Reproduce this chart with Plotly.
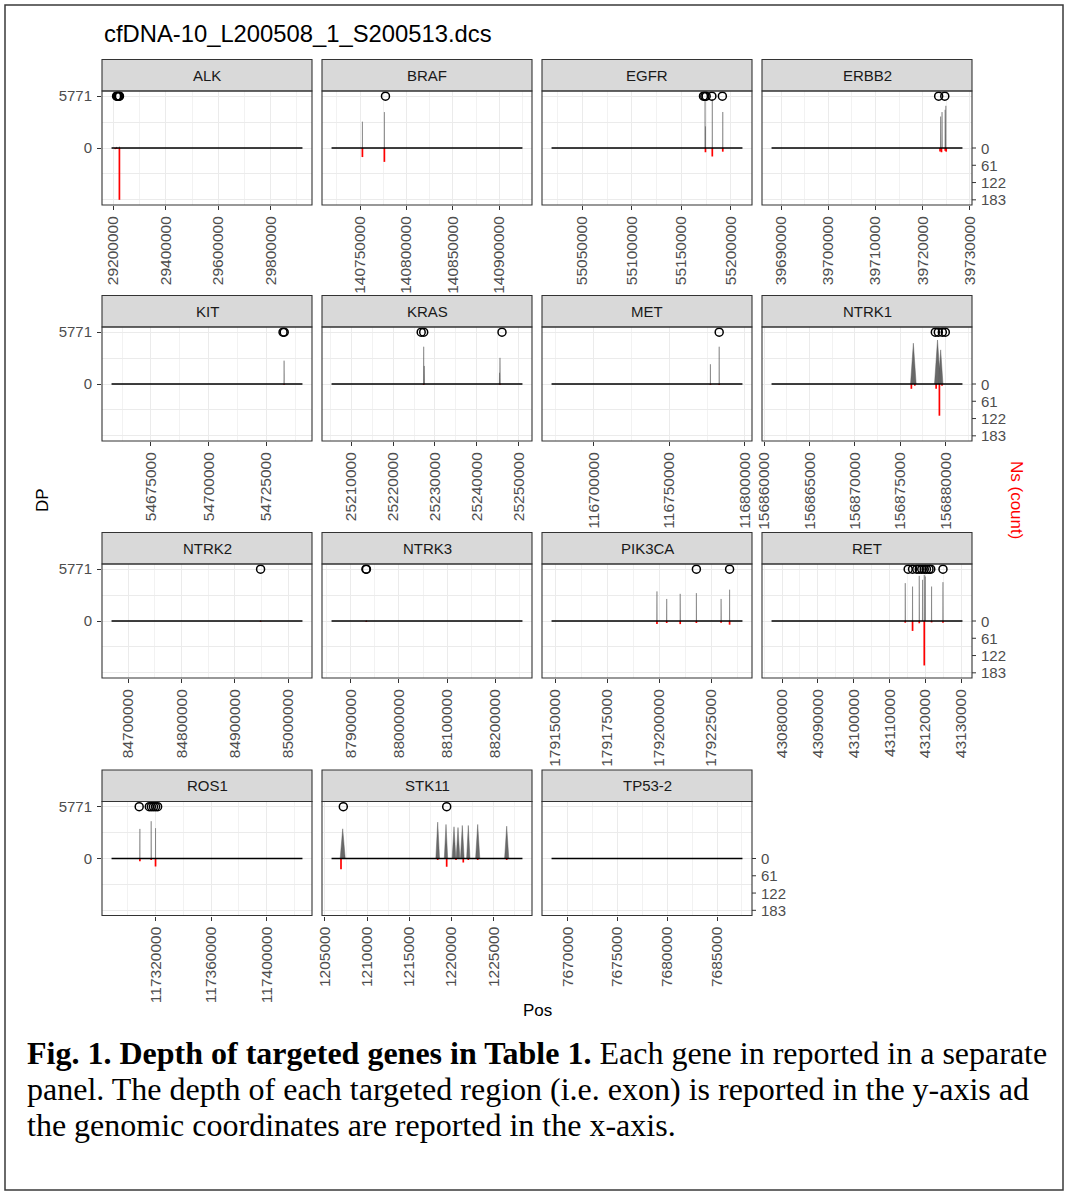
import plotly.graph_objects as go

# ---------------- data ----------------
title_text = "cfDNA-10_L200508_1_S200513.dcs"
genes = ["ALK", "BRAF", "EGFR", "ERBB2", "KIT", "KRAS", "MET", "NTRK1",
         "NTRK2", "NTRK3", "PIK3CA", "RET", "ROS1", "STK11", "TP53-2"]
gene_start = [29192774, 140719327, 55019017, 39687974, 54657918, 25205246, 116672196,
              156860815, 84668368, 87859751, 179148114, 43077069, 117288300, 1205778, 7668402]
gene_end = [29921586, 140924929, 55211628, 39728447, 54740715, 25250936, 116798377,
            156881850, 85027070, 88256768, 179240093, 43130349, 117425855, 1228431, 7687550]
x_ticks = [
    [29200000, 29400000, 29600000, 29800000],
    [140750000, 140800000, 140850000, 140900000],
    [55050000, 55100000, 55150000, 55200000],
    [39690000, 39700000, 39710000, 39720000, 39730000],
    [54675000, 54700000, 54725000],
    [25210000, 25220000, 25230000, 25240000, 25250000],
    [116700000, 116750000, 116800000],
    [156860000, 156865000, 156870000, 156875000, 156880000],
    [84700000, 84800000, 84900000, 85000000],
    [87900000, 88000000, 88100000, 88200000],
    [179150000, 179175000, 179200000, 179225000],
    [43080000, 43090000, 43100000, 43110000, 43120000, 43130000],
    [117320000, 117360000, 117400000],
    [1205000, 1210000, 1215000, 1220000, 1225000],
    [7670000, 7675000, 7680000, 7685000],
]
DP_MAX = 5771
NS_MAX = 183
ns_ticks = [0, 61, 122, 183]

# depth peaks (DP)
dp_gene = (["ALK"] * 2 + ["BRAF"] * 2 + ["EGFR"] * 4 + ["ERBB2"] * 4 + ["KIT"] + ["KRAS"] * 4
           + ["MET"] * 2 + ["NTRK1"] * 3 + ["NTRK2"] + ["NTRK3"] + ["PIK3CA"] * 6 + ["RET"] * 8
           + ["ROS1"] * 3 + ["STK11"] * 9)
dp_pos = [29212000, 29222800,
          140752580, 140776230,
          55173900, 55174300, 55181200, 55191770,
          39723820, 39724120, 39724780, 39724930,
          54732750,
          25227300, 25227440, 25245560, 25245450,
          116777200, 116783000,
          156876440, 156879100, 156879450,
          84948400,
          87932000,
          179198900, 179203600, 179210100, 179217900, 179229800, 179233900,
          43114385, 43116424, 43118295, 43119217, 43119692, 43119971, 43121731, 43124915,
          117308720, 117316860, 117320000,
          1207101, 1218374, 1219359, 1220308, 1220783, 1221293, 1222005, 1223120, 1226561]
dp_val = [120, 150,
          2930, 4000,
          5400, 2400, 5450, 4010,
          3500, 4000, 4250, 4700,
          2600,
          4150, 2010, 2910, 1250,
          2200, 4150,
          4545, 4900, 3800,
          80,
          80,
          3295, 2455, 3025, 3104, 2455, 3485,
          4213, 3832, 5031, 4583, 5143, 4953, 3832, 4325,
          3296, 4151, 3375,
          3307, 4050, 3791, 3532, 3450, 3679, 3679, 3791, 3600]
dp_halfwidth = [400, 400,
                60, 60,
                60, 60, 60, 60,
                40, 40, 40, 40,
                60,
                50, 50, 50, 50,
                60, 60,
                310, 330, 250,
                100,
                100,
                60, 60, 60, 60, 60, 60,
                40, 40, 40, 40, 40, 40, 40, 40,
                60, 60, 60,
                300, 220, 200, 220, 220, 220, 200, 250, 250]

# N counts (Ns)
ns_gene = (["ALK"] * 3 + ["BRAF"] * 2 + ["EGFR"] * 3 + ["ERBB2"] * 4 + ["KIT"] + ["KRAS"] * 2
           + ["MET"] * 2 + ["NTRK1"] * 5 + ["NTRK2"] + ["NTRK3"] + ["PIK3CA"] * 6 + ["RET"] * 6
           + ["ROS1"] * 3 + ["STK11"] * 8)
ns_pos = [29207000, 29213000, 29222800,
          140752580, 140776230,
          55174300, 55181200, 55191770,
          39723700, 39724000, 39724800, 39725000,
          54732750,
          25227300, 25245560,
          116777200, 116783000,
          156876220, 156876600, 156878950, 156879310, 156879600,
          84948400,
          87932000,
          179198900, 179203600, 179210100, 179217900, 179229800, 179233900,
          43114385, 43116424, 43118295, 43119692, 43121731, 43124915,
          117308720, 117316860, 117320000,
          1206900, 1218374, 1219440, 1220546, 1221410, 1222005, 1223120, 1226561]
ns_val = [4, 3, 183,
          32, 49,
          15, 30, 13,
          12, 15, 10, 13,
          3,
          3, 3,
          3, 3,
          17, 6, 17, 112, 6,
          3,
          3,
          11, 7, 11, 7, 6, 13,
          6, 35, 8, 157, 5, 6,
          10, 5, 28,
          38, 5, 29, 5, 14, 5, 5, 5]

# marked positions (open circles at top)
pt_gene = (["ALK"] * 5 + ["BRAF"] + ["EGFR"] * 5 + ["ERBB2"] * 2 + ["KIT"] * 2 + ["KRAS"] * 3
           + ["MET"] + ["NTRK1"] * 4 + ["NTRK2"] + ["NTRK3"] * 2 + ["PIK3CA"] * 2 + ["RET"] * 10
           + ["ROS1"] * 6 + ["STK11"] * 2)
pt_pos = [29212000, 29215000, 29218000, 29221000, 29223000,
          140777400,
          55172300, 55173700, 55175000, 55180800, 55191360,
          39723400, 39724700,
          54732300, 54732800,
          25226700, 25227300, 25246040,
          116783000,
          156878860, 156879190, 156879630, 156879960,
          84948400,
          87931300, 87932300,
          179217900, 179233900,
          43115200, 43116424, 43117600, 43118295, 43119000, 43119692, 43120300, 43121000,
          43121500, 43124915,
          117308220, 117315500, 117317000, 117318500, 117320000, 117321500,
          1207173, 1219441]

caption_lines = [
    "<b>Fig. 1. Depth of targeted genes in Table 1.</b> Each gene in reported in a separate",
    "panel. The depth of each targeted region (i.e. exon) is reported in the y-axis ad",
    "the genomic coordinates are reported in the x-axis.",
]

# ---------------- layout geometry ----------------
W, H = 1065, 1192
col_left = [102, 322, 542, 762]
panel_w = 210
strip_top = [59.5, 295.5, 532.5, 770]
strip_h = 31.5
panel_h = 114
NCOL = 4

SANS = "Liberation Sans, Arial, Helvetica, sans-serif"
SERIF = "Liberation Serif, Times New Roman, serif"
GRID = "#EBEBEB"
BORDER = "#333333"
TICKC = "#4D4D4D"

K = DP_MAX / NS_MAX          # secondary (Ns) axis transform, like ggplot sec_axis
Y_R = DP_MAX * 1.1


def fx(px):
    return px / W


def fy(py):
    return 1 - py / H


fig = go.Figure()
layout = {}
shapes = []
annotations = []

for i, g in enumerate(genes):
    r, c = divmod(i, NCOL)
    n = i + 1
    sfx = "" if n == 1 else str(n)
    xa, ya = "x" + sfx, "y" + sfx
    last = (c == NCOL - 1) or (i == len(genes) - 1)

    # DP peaks (gray)
    xs, ys = [], []
    for gg, p, v, hw in zip(dp_gene, dp_pos, dp_val, dp_halfwidth):
        if gg == g:
            xs += [p - hw, p, p + hw, None]
            ys += [0, v, 0, None]
    if xs:
        fig.add_trace(go.Scatter(x=xs, y=ys, xaxis=xa, yaxis=ya, mode="lines",
                                 fill="toself", fillcolor="rgba(77,77,77,0.85)",
                                 line=dict(color="rgba(90,90,90,0.5)", width=0.9),
                                 hoverinfo="skip", showlegend=False))
    # Ns (red), drawn downward through the secondary-axis transform
    xs, ys = [], []
    for gg, p, v in zip(ns_gene, ns_pos, ns_val):
        if gg == g:
            xs += [p, p, None]
            ys += [0, -v * K, None]
    if xs:
        fig.add_trace(go.Scatter(x=xs, y=ys, xaxis=xa, yaxis=ya, mode="lines",
                                 line=dict(color="#FF0000", width=1.7),
                                 hoverinfo="skip", showlegend=False))
    # baseline over gene span
    fig.add_trace(go.Scatter(x=[gene_start[i], gene_end[i]], y=[0, 0], xaxis=xa, yaxis=ya,
                             mode="lines", line=dict(color="black", width=1.6),
                             hoverinfo="skip", showlegend=False))
    # marked positions
    px_ = [p for gg, p in zip(pt_gene, pt_pos) if gg == g]
    if px_:
        fig.add_trace(go.Scatter(x=px_, y=[DP_MAX] * len(px_), xaxis=xa, yaxis=ya,
                                 mode="markers",
                                 marker=dict(symbol="circle-open", size=8, color="black",
                                             line=dict(width=1.5, color="black")),
                                 hoverinfo="skip", showlegend=False))

    # axes
    span = gene_end[i] - gene_start[i]
    lo, hi = gene_start[i] - 0.05 * span, gene_end[i] + 0.05 * span
    tk = x_ticks[i]
    step = tk[1] - tk[0]
    mids = [(a + b) / 2 for a, b in zip(tk, tk[1:])] + [tk[0] - step / 2, tk[-1] + step / 2]
    x0 = col_left[c]
    x1 = x0 + panel_w
    ptop = strip_top[r] + strip_h
    pbot = ptop + panel_h

    layout["xaxis" + sfx] = dict(
        domain=[fx(x0), fx(x1)], anchor=ya, range=[lo, hi],
        tickmode="array", tickvals=tk, ticktext=[str(t) for t in tk],
        tickangle=-90, ticks="outside", ticklen=4, tickwidth=1, tickcolor=BORDER,
        ticklabelstandoff=0,
        tickfont=dict(family=SANS, size=15.5, color=TICKC),
        showgrid=True, gridcolor=GRID, gridwidth=1.1,
        minor=dict(tickmode="array", tickvals=mids, showgrid=True,
                   gridcolor="#F2F2F2", gridwidth=0.7, ticks=""),
        zeroline=False, showline=False, automargin=False, fixedrange=True)
    layout["yaxis" + sfx] = dict(
        domain=[fy(pbot), fy(ptop)], anchor=xa, range=[-Y_R, Y_R],
        tickmode="array", tickvals=[0, DP_MAX], ticktext=["0", str(DP_MAX)],
        showticklabels=(c == 0), ticks="outside" if c == 0 else "",
        ticklen=4, tickwidth=1, tickcolor=BORDER, ticklabelstandoff=2,
        tickfont=dict(family=SANS, size=15, color=TICKC),
        showgrid=True, gridcolor=GRID, gridwidth=1.1,
        minor=dict(tickmode="array", tickvals=[-DP_MAX, -DP_MAX / 2, DP_MAX / 2],
                   showgrid=True, gridcolor=GRID, gridwidth=1, ticks=""),
        zeroline=False, showline=False, automargin=False, fixedrange=True)

    # secondary Ns axis labels on the right of the last panel of each row
    if last:
        for v in ns_ticks:
            shapes.append(dict(type="line", xref=xa + " domain", yref=ya,
                               x0=1, x1=1 + 4 / panel_w, y0=-v * K, y1=-v * K,
                               line=dict(color=BORDER, width=1), layer="above"))
            annotations.append(dict(text=str(v), xref=xa + " domain", yref=ya,
                                    x=1, y=-v * K, xanchor="left", yanchor="middle",
                                    xshift=7, showarrow=False,
                                    font=dict(family=SANS, size=15, color=TICKC)))

    # strip + panel border
    shapes.append(dict(type="rect", xref="paper", yref="paper",
                       x0=fx(x0), x1=fx(x1), y0=fy(ptop), y1=fy(strip_top[r]),
                       fillcolor="#D9D9D9", line=dict(color=BORDER, width=1.1), layer="above"))
    shapes.append(dict(type="rect", xref="paper", yref="paper",
                       x0=fx(x0), x1=fx(x1), y0=fy(pbot), y1=fy(ptop),
                       fillcolor="rgba(0,0,0,0)", line=dict(color=BORDER, width=1.1),
                       layer="above"))
    annotations.append(dict(text=g, x=fx((x0 + x1) / 2), y=fy(strip_top[r] + strip_h / 2),
                            xref="paper", yref="paper", showarrow=False,
                            xanchor="center", yanchor="middle",
                            font=dict(family=SANS, size=15, color="#1A1A1A")))

# outer frame
shapes.append(dict(type="rect", xref="paper", yref="paper",
                   x0=fx(5), x1=fx(1063), y0=fy(1190), y1=fy(5),
                   fillcolor="rgba(0,0,0,0)", line=dict(color="#3A3A3A", width=1.5),
                   layer="above"))

# titles
annotations.append(dict(text=title_text, x=fx(102), y=fy(34), xref="paper", yref="paper",
                        showarrow=False, xanchor="left", yanchor="middle",
                        font=dict(family=SANS, size=23.8, color="black")))
annotations.append(dict(text="DP", x=fx(42), y=fy(500), xref="paper", yref="paper",
                        showarrow=False, textangle=-90, xanchor="center", yanchor="middle",
                        font=dict(family=SANS, size=17, color="black")))
annotations.append(dict(text="Ns (count)", x=fx(1017), y=fy(500), xref="paper", yref="paper",
                        showarrow=False, textangle=90, xanchor="center", yanchor="middle",
                        font=dict(family=SANS, size=17, color="#FF0000")))
annotations.append(dict(text="Pos", x=fx(537), y=fy(1010), xref="paper", yref="paper",
                        showarrow=False, xanchor="center", yanchor="middle",
                        font=dict(family=SANS, size=17, color="black")))
for k, line in enumerate(caption_lines):
    annotations.append(dict(text=line, x=fx(25), y=fy(1053 + 36 * k), xref="paper",
                            yref="paper", showarrow=False, xanchor="left", yanchor="middle",
                            font=dict(family=SERIF, size=32, color="black")))

fig.update_layout(
    width=W, height=H, autosize=False,
    margin=dict(l=0, r=0, t=0, b=0, pad=0),
    paper_bgcolor="white", plot_bgcolor="white",
    template="none", showlegend=False,
    shapes=shapes, annotations=annotations,
    **layout)

fig.write_html("out.html",
               config={"displayModeBar": False},
               post_script="document.body.style.margin='0px';"
                           "document.body.style.overflow='hidden';")
